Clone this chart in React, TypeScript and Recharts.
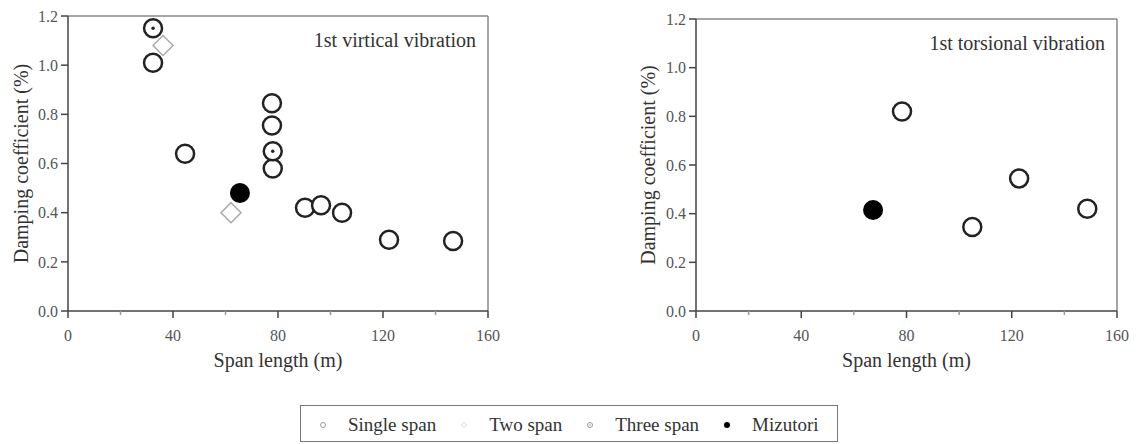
import { ScatterChart, Scatter, XAxis, YAxis, ReferenceLine, Label } from "recharts";

// span length (m), damping coefficient (%)
const verticalSingle = [
  { x: 32.4, y: 1.01 },
  { x: 44.6, y: 0.64 },
  { x: 77.7, y: 0.845 },
  { x: 77.7, y: 0.755 },
  { x: 78, y: 0.58 },
  { x: 90.3, y: 0.42 },
  { x: 96.4, y: 0.43 },
  { x: 104.4, y: 0.4 },
  { x: 122.3, y: 0.29 },
  { x: 146.7, y: 0.285 },
];
const verticalTwo = [
  { x: 36.2, y: 1.08 },
  { x: 62.1, y: 0.4 },
];
const verticalThree = [
  { x: 32.4, y: 1.15 },
  { x: 78, y: 0.65 },
];
const verticalMizutori = [{ x: 65.5, y: 0.48 }];

const torsionalSingle = [
  { x: 78.3, y: 0.82 },
  { x: 105, y: 0.345 },
  { x: 122.8, y: 0.545 },
  { x: 148.7, y: 0.42 },
];
const torsionalMizutori = [{ x: 67.3, y: 0.415 }];

const xTicks = [0, 20, 40, 60, 80, 100, 120, 140, 160];
const yTicks = [0, 0.2, 0.4, 0.6, 0.8, 1.0, 1.2];

const legendItems = [
  { kind: "single", label: "Single span" },
  { kind: "two", label: "Two span" },
  { kind: "three", label: "Three span" },
  { kind: "mizutori", label: "Mizutori" },
];

const FONT = "Times New Roman, Liberation Serif, DejaVu Serif, serif";
const AXIS = "#444";
const FRAME = "#888";
const TICK_TEXT = "#555";

const OpenCircle = ({ cx, cy }: any) => (
  <circle cx={cx} cy={cy} r={9} fill="#fff" stroke="#222" strokeWidth={2.5} />
);

const DotCircle = ({ cx, cy }: any) => (
  <g>
    <circle cx={cx} cy={cy} r={9} fill="#fff" stroke="#222" strokeWidth={2.5} />
    <circle cx={cx} cy={cy} r={1.7} fill="#222" />
  </g>
);

const Diamond = ({ cx, cy }: any) => (
  <path
    d={`M${cx},${cy - 10} L${cx + 10},${cy} L${cx},${cy + 10} L${cx - 10},${cy} Z`}
    fill="#fff"
    stroke="#aaa"
    strokeWidth={1.5}
  />
);

const Filled = ({ cx, cy }: any) => <circle cx={cx} cy={cy} r={10} fill="#000" />;

const XTick = ({ x, y, payload }: any) => {
  const major = payload.value % 40 === 0;
  return (
    <g>
      <line x1={x} x2={x} y1={y} y2={y + (major ? 7 : 4)} stroke={major ? AXIS : "#999"} strokeWidth={1.5} />
      {major && (
        <text x={x} y={y + 30} textAnchor="middle" fontSize={16} fill={TICK_TEXT} style={{ fontFamily: FONT }}>
          {payload.value}
        </text>
      )}
    </g>
  );
};

function LegendIcon({ kind }: { kind: string }) {
  return (
    <svg width={8} height={8} style={{ marginRight: 21, flexShrink: 0 }}>
      {kind === "single" && <circle cx={4} cy={4} r={2.5} fill="none" stroke="#999" strokeWidth={1} />}
      {kind === "two" && <path d="M4,1 L7,4 L4,7 L1,4 Z" fill="none" stroke="#ddd" strokeWidth={1} />}
      {kind === "three" && (
        <g>
          <circle cx={4} cy={4} r={2.5} fill="none" stroke="#999" strokeWidth={1} />
          <circle cx={4} cy={4} r={0.8} fill="#999" />
        </g>
      )}
      {kind === "mizutori" && <circle cx={4} cy={4} r={3} fill="#000" />}
    </svg>
  );
}

interface PanelProps {
  left: number;
  width: number;
  top: number;
  yAxisWidth: number;
  right: number;
  labelX: number;
  title: string;
  children: any;
}

function Panel({ left, width, top, yAxisWidth, right, labelX, title, children }: PanelProps) {
  const height = 390;
  const plotBottom = 311;
  const plotMid = (top + plotBottom) / 2;
  return (
    <div style={{ position: "absolute", left, top: 0 }}>
      <ScatterChart
        width={width}
        height={height}
        margin={{ top, right, left: 0, bottom: height - plotBottom - 40 }}
        style={{ fontFamily: FONT }}
      >
        <XAxis
          type="number"
          dataKey="x"
          domain={[0, 160]}
          ticks={xTicks}
          interval={0}
          tickSize={0}
          tickMargin={0}
          tickLine={false}
          tick={<XTick />}
          height={40}
          stroke={AXIS}
          strokeWidth={1.5}
        >
          <Label
            content={(p: any) => {
              const vb = p.viewBox;
              return (
                <text
                  x={vb.x + vb.width / 2}
                  y={plotBottom + 56}
                  textAnchor="middle"
                  fontSize={20}
                  fill="#333"
                  style={{ fontFamily: FONT }}
                >
                  Span length (m)
                </text>
              );
            }}
          />
        </XAxis>
        <YAxis
          type="number"
          dataKey="y"
          domain={[0, 1.2]}
          ticks={yTicks}
          interval={0}
          width={yAxisWidth}
          tickSize={7}
          tickMargin={3}
          tickFormatter={(v: number) => v.toFixed(1)}
          tick={{ fontSize: 16, fill: TICK_TEXT, style: { fontFamily: FONT } }}
          stroke={AXIS}
          strokeWidth={1.5}
        >
          <Label
            content={() => (
              <text
                x={labelX}
                y={plotMid}
                transform={`rotate(-90, ${labelX}, ${plotMid})`}
                textAnchor="middle"
                dominantBaseline="central"
                fontSize={20}
                fill="#333"
                style={{ fontFamily: FONT }}
              >
                Damping coefficient (%)
              </text>
            )}
          />
        </YAxis>
        <ReferenceLine y={1.2} stroke={FRAME} strokeWidth={1.5} />
        <ReferenceLine x={160} stroke={FRAME} strokeWidth={1.5} />
        {children}
      </ScatterChart>
      <div
        style={{
          position: "absolute",
          right: right + 12,
          top: top + 13,
          fontSize: 20,
          color: "#333",
          fontFamily: FONT,
          whiteSpace: "nowrap",
        }}
      >
        {title}
      </div>
    </div>
  );
}

export default function App() {
  return (
    <div
      style={{
        position: "absolute",
        left: 0,
        top: 0,
        width: 1136,
        height: 444,
        background: "#fff",
        fontFamily: FONT,
      }}
    >
      <Panel left={0} width={500} top={16} yAxisWidth={68} right={12} labelX={21} title="1st virtical vibration">
        <Scatter data={verticalTwo} shape={(p: any) => <Diamond {...p} />} isAnimationActive={false} />
        <Scatter data={verticalSingle} shape={(p: any) => <OpenCircle {...p} />} isAnimationActive={false} />
        <Scatter data={verticalThree} shape={(p: any) => <DotCircle {...p} />} isAnimationActive={false} />
        <Scatter data={verticalMizutori} shape={(p: any) => <Filled {...p} />} isAnimationActive={false} />
      </Panel>
      <Panel left={600} width={530} top={19} yAxisWidth={96} right={13} labelX={48} title="1st torsional vibration">
        <Scatter data={torsionalSingle} shape={(p: any) => <OpenCircle {...p} />} isAnimationActive={false} />
        <Scatter data={torsionalMizutori} shape={(p: any) => <Filled {...p} />} isAnimationActive={false} />
      </Panel>
      <div
        style={{
          position: "absolute",
          left: 300,
          top: 405,
          width: 538,
          height: 37,
          border: "1.5px solid #777",
          display: "flex",
          alignItems: "center",
          paddingLeft: 18,
          paddingTop: 3,
          boxSizing: "border-box",
          fontSize: 19,
          color: "#333",
          whiteSpace: "nowrap",
          overflow: "hidden",
        }}
      >
        {legendItems.map((it) => (
          <div key={it.kind} style={{ display: "flex", alignItems: "center", marginRight: 24, flexShrink: 0 }}>
            <LegendIcon kind={it.kind} />
            <span style={{ whiteSpace: "nowrap" }}>{it.label}</span>
          </div>
        ))}
      </div>
    </div>
  );
}
